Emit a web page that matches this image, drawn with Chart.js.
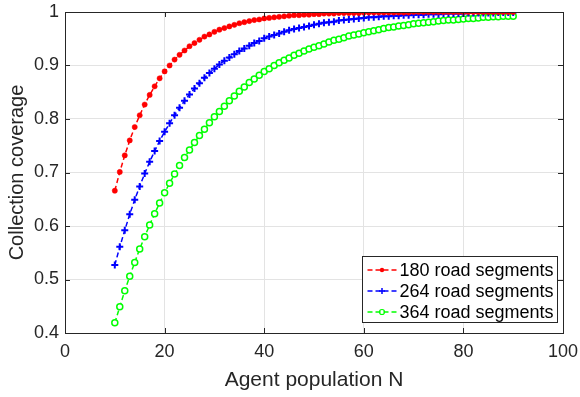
<!DOCTYPE html>
<html>
<head>
<meta charset="utf-8">
<script src="https://cdn.jsdelivr.net/npm/chart.js@4.4.0/dist/chart.umd.min.js"></script>
<style>
  html, body { margin: 0; padding: 0; background: #fff; }
  #wrap { width: 580px; height: 397px; }
</style>
</head>
<body>
<div id="wrap"><canvas id="coverage" width="580" height="397"></canvas></div>
<script>
// agent population (x values)
const agentN = [10,11,12,13,14,15,16,17,18,19,20,21,22,23,24,25,26,27,28,29,30,
  31,32,33,34,35,36,37,38,39,40,41,42,43,44,45,46,47,48,49,50,
  51,52,53,54,55,56,57,58,59,60,61,62,63,64,65,66,67,68,69,70,
  71,72,73,74,75,76,77,78,79,80,81,82,83,84,85,86,87,88,89,90];

// coverage
const cov180 = [0.666,0.701,0.732,0.760,0.785,0.807,0.827,0.845,0.861,0.876,0.889,
  0.900,0.911,0.920,0.928,0.936,0.942,0.948,0.954,0.958,0.963,
  0.967,0.970,0.973,0.976,0.979,0.981,0.983,0.985,0.986,0.988,
  0.989,0.990,0.991,0.992,0.993,0.994,0.994,0.995,0.995,0.996,
  0.996,0.997,0.997,0.997,0.998,0.998,0.998,0.998,0.998,0.999,
  0.999,0.999,0.999,0.999,0.999,0.999,0.999,0.999,0.999,1.000,
  1.000,1.000,1.000,1.000,1.000,1.000,1.000,1.000,1.000,1.000,
  1.000,1.000,1.000,1.000,1.000,1.000,1.000,1.000,1.000,1.000];
const cov264 = [0.527,0.561,0.592,0.622,0.649,0.674,0.698,0.720,0.740,0.759,0.776,
  0.792,0.807,0.821,0.834,0.846,0.857,0.867,0.877,0.886,0.894,
  0.902,0.909,0.915,0.921,0.927,0.932,0.937,0.942,0.946,0.951,
  0.954,0.957,0.960,0.963,0.966,0.968,0.970,0.972,0.974,0.976,
  0.978,0.980,0.981,0.982,0.984,0.985,0.986,0.987,0.988,0.989,
  0.990,0.990,0.991,0.992,0.992,0.993,0.993,0.994,0.994,0.995,
  0.995,0.995,0.996,0.996,0.996,0.997,0.997,0.997,0.997,0.997,
  0.998,0.998,0.998,0.998,0.998,0.998,0.999,0.999,0.999,0.999];
const cov364 = [0.419,0.449,0.479,0.506,0.532,0.557,0.580,0.602,0.623,0.643,0.662,
  0.680,0.697,0.713,0.728,0.742,0.756,0.769,0.781,0.793,0.804,
  0.814,0.824,0.834,0.843,0.852,0.860,0.868,0.875,0.882,0.889,
  0.894,0.900,0.905,0.910,0.914,0.919,0.923,0.927,0.931,0.934,
  0.937,0.940,0.944,0.947,0.949,0.952,0.955,0.957,0.959,0.961,
  0.963,0.965,0.967,0.969,0.971,0.972,0.974,0.975,0.976,0.978,
  0.979,0.980,0.981,0.982,0.983,0.984,0.985,0.985,0.986,0.987,
  0.988,0.988,0.989,0.990,0.990,0.991,0.991,0.992,0.992,0.992];

const seriesLabels = ['180 road segments', '264 road segments', '364 road segments'];
const xTicks = [0, 20, 40, 60, 80, 100];
const yTicks = [0.4, 0.5, 0.6, 0.7, 0.8, 0.9, 1];

const FONT = '"Liberation Sans", Arial, Helvetica, sans-serif';

function pts(ys) {
  return agentN.map((n, i) => ({ x: n, y: ys[i] }));
}

// matlab-like box, inward ticks and legend in the lower right
const boxPlugin = {
  id: 'boxPlugin',
  afterDatasetsDraw(chart) {
    const c = chart.ctx;
    const a = chart.chartArea;
    const xs = chart.scales.x, ys = chart.scales.y;
    c.save();
    c.strokeStyle = '#262626';
    c.lineWidth = 1;
    // inward ticks
    c.beginPath();
    xTicks.forEach(t => {
      const px = Math.round(xs.getPixelForValue(t)) + 0.5;
      c.moveTo(px, a.bottom); c.lineTo(px, a.bottom - 5);
      c.moveTo(px, a.top); c.lineTo(px, a.top + 5);
    });
    yTicks.forEach(t => {
      const py = Math.round(ys.getPixelForValue(t)) + 0.5;
      c.moveTo(a.left, py); c.lineTo(a.left + 5, py);
      c.moveTo(a.right, py); c.lineTo(a.right - 5, py);
    });
    c.stroke();
    c.strokeRect(Math.round(a.left) + 0.5, Math.round(a.top) + 0.5,
      Math.round(a.right - a.left), Math.round(a.bottom - a.top));

    // legend
    const lx = 362.5, ly = 256.5, lw = 195, lh = 66;
    c.fillStyle = '#fff';
    c.fillRect(lx, ly, lw, lh);
    c.strokeStyle = '#262626';
    c.strokeRect(lx, ly, lw, lh);
    c.font = '18px ' + FONT;
    c.textBaseline = 'middle';
    chart.data.datasets.forEach((ds, i) => {
      const y = ly + 13.5 + i * 21;
      c.strokeStyle = ds.borderColor;
      c.lineWidth = 1.5;
      c.setLineDash([5, 3]);
      c.beginPath();
      c.moveTo(lx + 5, y); c.lineTo(lx + 34, y);
      c.stroke();
      c.setLineDash([]);
      const mx = lx + 19.5;
      c.beginPath();
      if (ds.pointStyle === 'cross') {
        c.lineWidth = 1.5;
        c.moveTo(mx - 3, y); c.lineTo(mx + 3, y);
        c.moveTo(mx, y - 3); c.lineTo(mx, y + 3);
        c.stroke();
      } else if (ds.pointBackgroundColor === '#ffffff') {
        c.lineWidth = 1.2;
        c.arc(mx, y, 2.5, 0, Math.PI * 2);
        c.stroke();
      } else {
        c.fillStyle = ds.borderColor;
        c.arc(mx, y, 2.2, 0, Math.PI * 2);
        c.fill();
      }
      c.fillStyle = '#000';
      c.fillText(seriesLabels[i], lx + 37, y + 1);
    });
    c.restore();
  }
};

const ctx = document.getElementById('coverage').getContext('2d');
new Chart(ctx, {
  type: 'line',
  data: {
    datasets: [
      {
        label: seriesLabels[0], data: pts(cov180),
        borderColor: '#ff0000', backgroundColor: '#ff0000',
        pointBackgroundColor: '#ff0000', pointStyle: 'circle',
        pointRadius: 2.6, pointBorderWidth: 0.5,
        borderWidth: 1.5, borderDash: [5, 3]
      },
      {
        label: seriesLabels[1], data: pts(cov264),
        borderColor: '#0000ff', backgroundColor: '#0000ff',
        pointBackgroundColor: '#0000ff', pointStyle: 'cross',
        pointRadius: 3.5, pointBorderWidth: 2,
        borderWidth: 1.5, borderDash: [5, 3]
      },
      {
        label: seriesLabels[2], data: pts(cov364),
        borderColor: '#00ff00', backgroundColor: '#00ff00',
        pointBackgroundColor: '#ffffff', pointStyle: 'circle',
        pointRadius: 3, pointBorderWidth: 1.5,
        borderWidth: 1.5, borderDash: [5, 3]
      }
    ]
  },
  options: {
    responsive: false,
    animation: false,
    layout: { padding: { top: 12, right: 17, left: 0, bottom: 0 } },
    plugins: { legend: { display: false }, tooltip: { enabled: false } },
    scales: {
      x: {
        type: 'linear', min: 0, max: 100,
        afterBuildTicks: s => { s.ticks = xTicks.map(v => ({ value: v })); },
        afterFit: s => { s.height = 64; s.paddingLeft = 0; s.paddingRight = 0; },
        grid: { color: '#e3e3e3', drawTicks: false },
        border: { display: false },
        ticks: { color: '#262626', font: { family: FONT, size: 18 }, padding: 8, maxRotation: 0 },
        title: { display: true, text: 'Agent population N', color: '#262626',
                 font: { family: FONT, size: 21 }, padding: { top: 4, bottom: 4 } }
      },
      y: {
        type: 'linear', min: 0.4, max: 1,
        afterBuildTicks: s => { s.ticks = yTicks.map(v => ({ value: v })); },
        afterFit: s => { s.width = 65; s.paddingTop = 0; s.paddingBottom = 0; },
        grid: { color: '#e3e3e3', drawTicks: false },
        border: { display: false },
        ticks: { color: '#262626', font: { family: FONT, size: 18 }, padding: 6,
                 callback: v => String(+v.toFixed(1)) },
        title: { display: true, text: 'Collection coverage', color: '#262626',
                 font: { family: FONT, size: 20 }, padding: { top: 5, bottom: 2 } }
      }
    }
  },
  plugins: [boxPlugin]
});
</script>
</body>
</html>
